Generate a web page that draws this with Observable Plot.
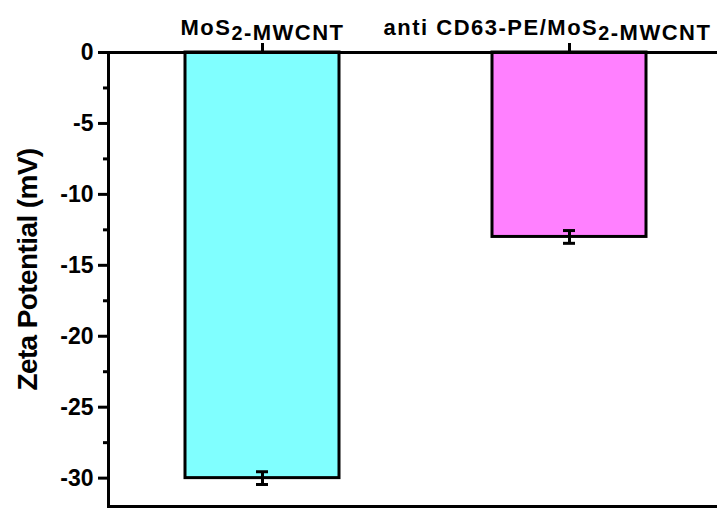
<!DOCTYPE html>
<html><head><meta charset="utf-8">
<script src="https://cdn.jsdelivr.net/npm/d3@7"></script>
<script src="https://cdn.jsdelivr.net/npm/@observablehq/plot@0.6"></script>
<style>body{margin:0;background:#fff}</style>
</head><body><div id="chart"></div>
<script>
const categories = ["MoS2-MWCNT", "anti CD63-PE/MoS2-MWCNT"];
const zeta = [-30.0, -13.0];
const zetaErr = [0.45, 0.45];
const colors = ["#80FFFF", "#FF80FF"];
const yMajorTicks = [0, -5, -10, -15, -20, -25, -30];
const yMinorTicks = [-2.5, -7.5, -12.5, -17.5, -22.5, -27.5];
const yTitle = "Zeta Potential (mV)";

const data = categories.map((c, i) => ({cat: c, v: zeta[i], e: zetaErr[i], color: colors[i]}));
const font = "'Liberation Sans', Arial, sans-serif";

const plot = Plot.plot({
  width: 717, height: 508,
  marginLeft: 108, marginRight: -5, marginTop: 52, marginBottom: 2,
  style: {fontFamily: font, fontWeight: "bold", background: "#fff", color: "#000", overflow: "hidden"},
  x: {domain: categories, paddingInner: 0.5, paddingOuter: 0.25, axis: null, label: null},
  y: {domain: [-32, 0], axis: null, label: null},
  color: {type: "identity"},
  marks: [
    Plot.barY(data, {x: "cat", y1: 0, y2: "v", fill: "color", stroke: "#000", strokeWidth: 3}),
    Plot.ruleX(data, {x: "cat", y1: d => d.v - d.e, y2: d => d.v + d.e, stroke: "#000", strokeWidth: 3}),
    Plot.tickY(data, {x: "cat", y: d => d.v - d.e, stroke: "#000", strokeWidth: 3, insetLeft: 71, insetRight: 71}),
    Plot.tickY(data, {x: "cat", y: d => d.v + d.e, stroke: "#000", strokeWidth: 3, insetLeft: 71, insetRight: 71}),
    Plot.frame({stroke: "#000", strokeWidth: 3}),
    Plot.axisY(yMajorTicks, {tickSize: 10, tickPadding: 5, strokeWidth: 3, fontSize: 23, fontWeight: "bold", label: null, tickFormat: d => String(d)}),
    Plot.axisY(yMinorTicks, {tickSize: 5, strokeWidth: 3, label: null, tickFormat: () => ""}),
    Plot.axisX({anchor: "top", tickSize: 10, tickPadding: 8, strokeWidth: 3, fontSize: 22, fontWeight: "bold", label: null}),
    Plot.text([yTitle], {frameAnchor: "left", textAnchor: "middle", dx: -80, dy: -10, rotate: -90, fontSize: 28, fontWeight: "bold", fill: "#000"})
  ]
});

// subscript "2" in MoS2; keep the long label inside the picture
d3.select(plot).selectAll("text").each(function() {
  const t = this.textContent;
  if (t === yTitle) { d3.select(this).attr("letter-spacing", "-0.6px"); return; }
  if (!t.includes("MoS2")) return;
  const sel = d3.select(this);
  sel.text(null);
  const parts = t.split("MoS2");
  parts.forEach((p, i) => {
    if (p) sel.append("tspan").text(p);
    if (i < parts.length - 1) {
      sel.append("tspan").text("MoS");
      sel.append("tspan").attr("dy", "0.3em").attr("font-size", "0.9em").text("2");
      sel.append("tspan").attr("dy", "-0.27em").text("");
    }
  });
  sel.attr("letter-spacing", "1.5px");
  if (t === categories[1]) sel.attr("dx", -22);
});

document.getElementById("chart").appendChild(plot);
</script>
</body></html>
